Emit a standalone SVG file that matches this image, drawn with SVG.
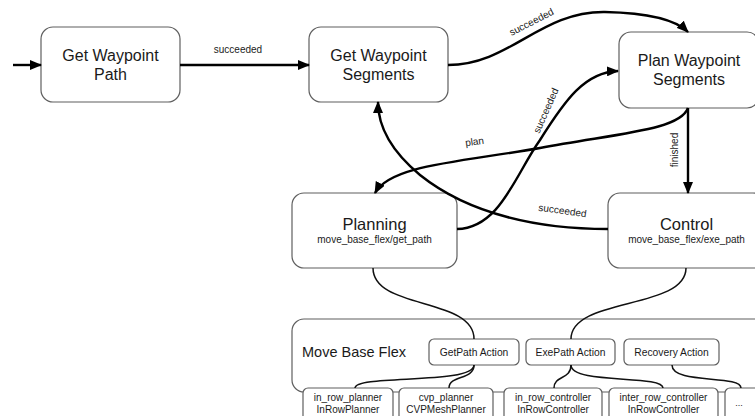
<svg xmlns="http://www.w3.org/2000/svg" width="755" height="416" viewBox="0 0 755 416">
<style>
.node rect{fill:#fff;stroke:#5f5f5f;stroke-width:1.2}
.t{font-family:"Liberation Sans",Arial,sans-serif;fill:#1a1a1a;text-anchor:middle}
.big{font-size:16px}
.sm{font-size:10px}
.lbl{font-family:"Liberation Sans",Arial,sans-serif;font-size:10px;fill:#222;text-anchor:middle}
.arrow{fill:none;stroke:#000;stroke-width:2.4}
.link{fill:none;stroke:#111;stroke-width:1.5}
</style>
<defs>
<marker id="arr" viewBox="0 0 12 10" refX="11" refY="5" markerWidth="12" markerHeight="10" markerUnits="userSpaceOnUse" orient="auto">
<path d="M0,0 L12,5 L0,10 z" fill="#000"/>
</marker>
</defs>
<rect width="755" height="416" fill="#fff"/>

<g id="move_base_flex" class="node">
<rect x="292" y="319" width="480" height="73" rx="12"/>
<text class="t" x="354" y="357" font-size="14.5px">Move Base Flex</text>
</g>

<g id="get_waypoint_path" class="node">
<rect x="41" y="27" width="139" height="75" rx="12"/>
<text class="t big" x="110.5" y="61">Get Waypoint</text>
<text class="t big" x="110.5" y="80">Path</text>
</g>
<g id="get_waypoint_segments" class="node">
<rect x="309" y="27" width="139" height="75" rx="12"/>
<text class="t big" x="378.5" y="61">Get Waypoint</text>
<text class="t big" x="378.5" y="80">Segments</text>
</g>
<g id="plan_waypoint_segments" class="node">
<rect x="619" y="32" width="140" height="76" rx="12"/>
<text class="t big" x="689" y="66">Plan Waypoint</text>
<text class="t big" x="689" y="85">Segments</text>
</g>
<g id="planning" class="node">
<rect x="292" y="193" width="165" height="75" rx="12"/>
<text class="t" x="374.5" y="229.5" font-size="16.5px">Planning</text>
<text class="t sm" x="374.5" y="243">move_base_flex/get_path</text>
</g>
<g id="control" class="node">
<rect x="608" y="193" width="157" height="75" rx="12"/>
<text class="t" x="686.5" y="229.5" font-size="16.5px">Control</text>
<text class="t sm" x="686.5" y="243">move_base_flex/exe_path</text>
</g>

<g id="getpath_action" class="node">
<rect x="429" y="339" width="90" height="26" rx="5"/>
<text class="t" x="474" y="356" font-size="10.3px">GetPath Action</text>
</g>
<g id="exepath_action" class="node">
<rect x="526" y="339" width="89" height="26" rx="5"/>
<text class="t" x="570.5" y="356" font-size="10.3px">ExePath Action</text>
</g>
<g id="recovery_action" class="node">
<rect x="624" y="339" width="95" height="26" rx="5"/>
<text class="t" x="671.5" y="356" font-size="10.3px">Recovery Action</text>
</g>

<g id="in_row_planner" class="node">
<rect x="303" y="388" width="90" height="40" rx="5"/>
<text class="t sm" x="348" y="401">in_row_planner</text>
<text class="t sm" x="348" y="413">InRowPlanner</text>
</g>
<g id="cvp_planner" class="node">
<rect x="399" y="388" width="94" height="40" rx="5"/>
<text class="t sm" x="446" y="401">cvp_planner</text>
<text class="t sm" x="446" y="413">CVPMeshPlanner</text>
</g>
<g id="in_row_controller" class="node">
<rect x="504" y="388" width="98" height="40" rx="5"/>
<text class="t sm" x="553" y="401">in_row_controller</text>
<text class="t sm" x="553" y="413">InRowController</text>
</g>
<g id="inter_row_controller" class="node">
<rect x="609" y="388" width="109" height="40" rx="5"/>
<text class="t sm" x="663.5" y="401">inter_row_controller</text>
<text class="t sm" x="663.5" y="413">InRowController</text>
</g>
<g id="more" class="node">
<rect x="725" y="388" width="50" height="40" rx="5"/>
<text class="t" x="739" y="406" font-size="9px" fill="#777">...</text>
</g>

<g id="connectors">
<path class="arrow" d="M13,65 L41,65" marker-end="url(#arr)"/>
<path class="arrow" d="M180,65 L309,65" marker-end="url(#arr)"/>
<text class="lbl" x="238" y="53">succeeded</text>

<path class="arrow" d="M448,65 C510,65 540,11 605,12 C650,13 676,20 688,32" marker-end="url(#arr)"/>
<text class="lbl" transform="translate(533,25) rotate(-27)">succeeded</text>

<path class="arrow" d="M457,229 C500,228 515,175 540,140 C565,100 585,72 618,71" marker-end="url(#arr)"/>
<text class="lbl" transform="translate(549,112) rotate(-66)">succeeded</text>

<path class="arrow" d="M688,108 C680,130 620,133 540,148 C460,162 390,165 375,193" marker-end="url(#arr)"/>
<text class="lbl" transform="translate(475,145) rotate(-8)">plan</text>

<path class="arrow" d="M688,108 L688,193" marker-end="url(#arr)"/>
<text class="lbl" transform="translate(678,150) rotate(-90)">finished</text>

<path class="arrow" d="M608,229 C540,229 470,215 420,175 C390,150 378,125 378,102" marker-end="url(#arr)"/>
<text class="lbl" transform="translate(562,214) rotate(8)">succeeded</text>

<path class="link" d="M373,268 C373,310 474,297 474,339"/>
<path class="link" d="M686,268 C686,310 571,297 571,339"/>
<path class="link" d="M474,365 C474,385 355,374 355,388"/>
<path class="link" d="M474,365 C474,380 449,375 449,388"/>
<path class="link" d="M571,365 C571,380 554,375 554,388"/>
<path class="link" d="M571,365 C571,385 663,374 663,388"/>
<path class="link" d="M672,365 C672,385 741,374 741,388"/>
</g>
</svg>
